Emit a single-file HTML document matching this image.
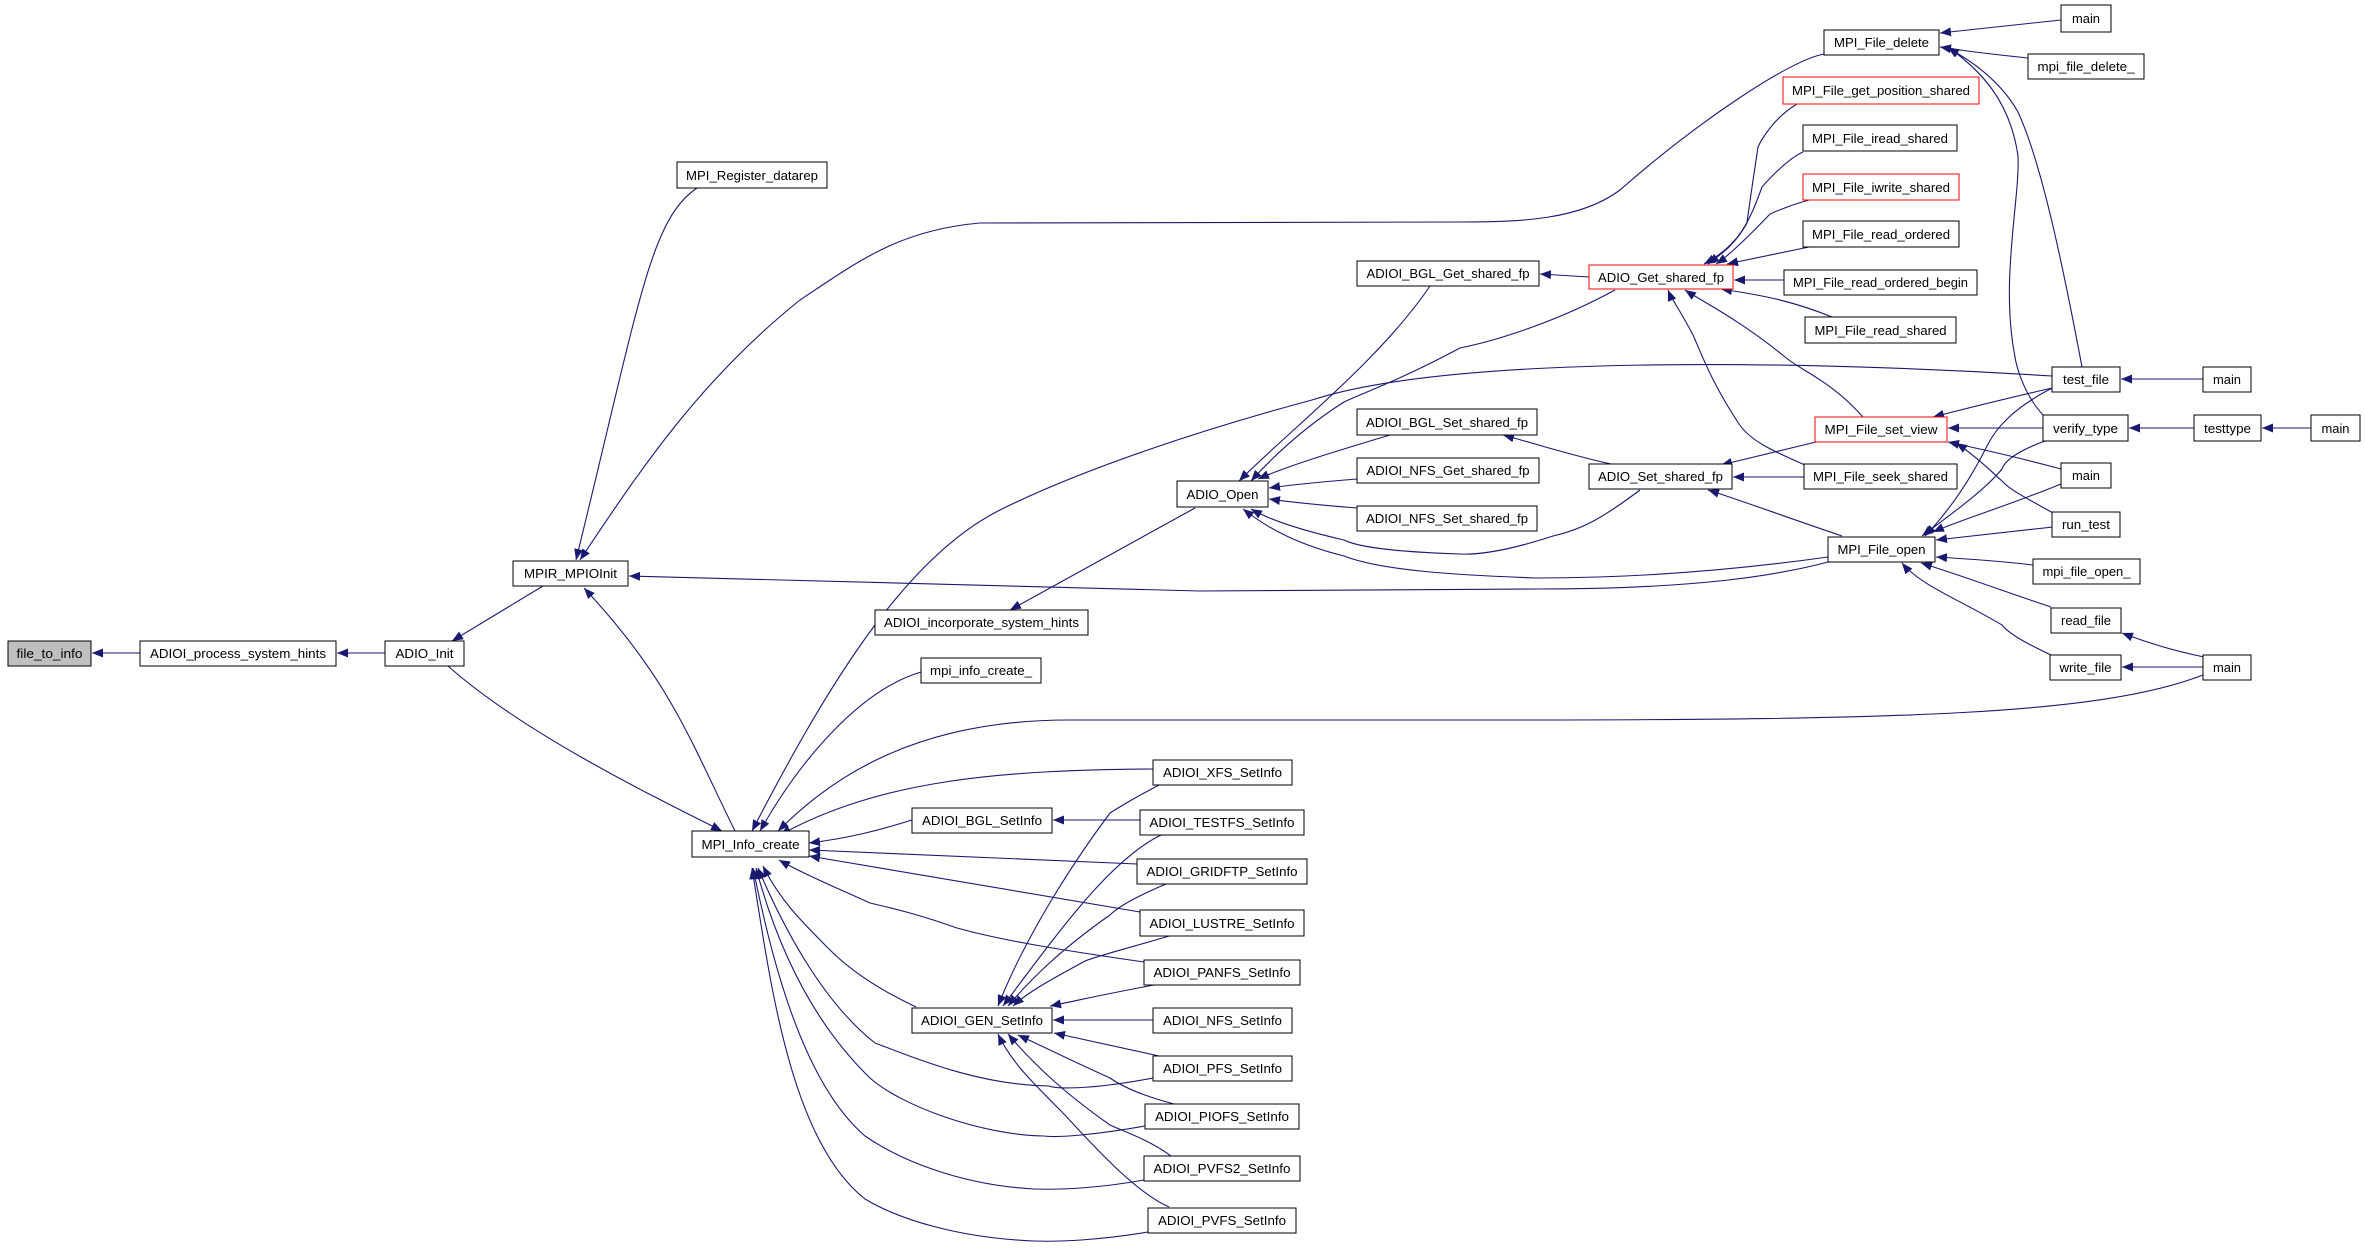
<!DOCTYPE html>
<html><head><meta charset="utf-8"><style>
html,body{margin:0;padding:0;background:#fff;}
svg{display:block;}
text{font-family:"Liberation Sans",sans-serif;font-size:13px;fill:#000;}
.e{fill:none;stroke:#191970;stroke-width:1.1;marker-end:url(#a);}
rect{fill:#fff;stroke:#000;stroke-width:1;}
.r{stroke:#ff0000;}
</style></head><body>
<svg width="2365" height="1260" viewBox="0 0 2365 1260" xmlns="http://www.w3.org/2000/svg">
<defs><marker id="a" markerWidth="11" markerHeight="9" refX="11" refY="4.5" orient="auto" markerUnits="userSpaceOnUse"><path d="M0,0 L11,4.5 L0,9 z" fill="#191970"/></marker></defs>
<g>
<path class="e" d="M140,653 L92,653"/>
<path class="e" d="M385,653 L337,653"/>
<path class="e" d="M543,586 L452,641"/>
<path class="e" d="M448,666 C520,730 640,790 722,831"/>
<path class="e" d="M697,188 C650,220 640,300 576,560"/>
<path class="e" d="M1824,54 C1790,60 1700,120 1620,190 C1580,220 1520,222 1460,222 L980,223 C900,230 860,260 800,300 C700,380 640,470 580,560"/>
<path class="e" d="M735,831 C690,740 670,680 584,588"/>
<path class="e" d="M1832,561 C1780,575 1700,589 1537,589 L1200,591 L629,576"/>
<path class="e" d="M1195,508 L1010,610"/>
<path class="e" d="M921,672 C860,690 800,760 760,831"/>
<path class="e" d="M2052,376 C1800,360 1450,355 1312,400 C1200,430 1080,470 1000,510 C900,560 820,700 752,831"/>
<path class="e" d="M2203,675 C2100,715 1900,720 1500,720 L1069,720 C900,720 820,790 778,831"/>
<path class="e" d="M1153,769 C1000,770 880,780 780,835"/>
<path class="e" d="M912,820 C880,830 850,838 809,843"/>
<path class="e" d="M1137,864 L809,850"/>
<path class="e" d="M1140,912 L809,856"/>
<path class="e" d="M1144,962 C1060,950 1000,940 957,928 C920,915 900,910 870,903 C830,885 800,872 779,860"/>
<path class="e" d="M916,1007 C880,990 850,970 830,950 C800,920 780,900 763,866"/>
<path class="e" d="M1153,1078 C1100,1088 1060,1090 1049,1086 C980,1085 920,1060 875,1043 C820,1000 780,920 758,868"/>
<path class="e" d="M1145,1126 C1100,1134 1060,1138 1044,1136 C980,1135 900,1105 870,1078 C800,1010 770,920 756,868"/>
<path class="e" d="M1144,1180 C1100,1188 1060,1190 1034,1189 C960,1185 900,1160 865,1136 C800,1080 770,950 753,868"/>
<path class="e" d="M1148,1232 C1100,1240 1060,1242 1034,1241 C960,1238 900,1220 865,1199 C790,1140 770,980 752,868"/>
<path class="e" d="M1140,820 L1053,820"/>
<path class="e" d="M1153,1020 L1053,1020"/>
<path class="e" d="M1161,784 C1130,800 1110,813 1110,813 C1060,880 1020,950 998,1006"/>
<path class="e" d="M1161,835 C1110,860 1060,930 1003,1006"/>
<path class="e" d="M1166,884 C1140,895 1120,905 1110,915 C1060,950 1030,980 1008,1006"/>
<path class="e" d="M1169,936 C1140,945 1100,955 1085,961 C1060,975 1030,990 1013,1006"/>
<path class="e" d="M1154,985 C1100,995 1080,1000 1050,1006"/>
<path class="e" d="M1159,1056 L1054,1033"/>
<path class="e" d="M1174,1104 C1140,1095 1120,1085 1110,1078 C1070,1060 1040,1045 1018,1035"/>
<path class="e" d="M1171,1156 C1150,1140 1120,1130 1110,1125 C1060,1090 1030,1060 1008,1034"/>
<path class="e" d="M1169,1207 C1130,1190 1080,1130 1059,1109 C1030,1080 1010,1060 998,1034"/>
<path class="e" d="M1430,286 C1380,360 1290,430 1239,481"/>
<path class="e" d="M1615,290 C1560,320 1500,340 1460,348 C1400,380 1370,390 1344,402 C1300,430 1270,460 1251,481"/>
<path class="e" d="M1390,435 C1340,450 1290,465 1258,479"/>
<path class="e" d="M1357,479 C1320,482 1290,485 1269,488"/>
<path class="e" d="M1357,508 C1320,505 1290,502 1269,499"/>
<path class="e" d="M1640,490 C1600,520 1580,530 1553,536 C1510,550 1480,555 1460,554 C1400,552 1360,548 1344,540 C1300,530 1270,520 1251,509"/>
<path class="e" d="M1828,557 C1700,575 1600,578 1537,578 C1450,575 1380,570 1344,556 C1300,545 1270,530 1243,509"/>
<path class="e" d="M1589,277 L1540,274"/>
<path class="e" d="M1797,104 C1770,120 1758,147 1758,147 C1750,200 1747,223 1747,223 C1735,245 1720,255 1708,264"/>
<path class="e" d="M1803,152 C1785,160 1762,187 1762,187 C1750,220 1740,245 1704,264"/>
<path class="e" d="M1809,200 C1790,205 1770,214 1770,214 C1750,235 1730,255 1716,264"/>
<path class="e" d="M1809,247 L1727,264"/>
<path class="e" d="M1784,280 L1734,280"/>
<path class="e" d="M1832,317 C1790,300 1760,295 1721,289"/>
<path class="e" d="M1863,417 C1830,380 1800,370 1785,357 C1740,320 1700,300 1685,290"/>
<path class="e" d="M1805,465 C1770,450 1750,440 1739,424 C1710,380 1700,350 1693,335 C1680,310 1672,300 1668,290"/>
<path class="e" d="M1611,464 C1570,455 1540,445 1503,435"/>
<path class="e" d="M1816,442 L1721,465"/>
<path class="e" d="M1804,477 L1733,477"/>
<path class="e" d="M1842,536 C1780,515 1740,500 1708,490"/>
<path class="e" d="M2061,20 L1940,33"/>
<path class="e" d="M2028,58 C2000,55 1970,52 1940,47"/>
<path class="e" d="M2082,367 C2060,250 2040,160 2018,112 C2000,80 1970,60 1948,48"/>
<path class="e" d="M2043,415 C2020,390 2015,357 2015,357 C2000,280 2020,200 2018,156 C2010,100 1980,70 1948,47"/>
<path class="e" d="M2052,388 C2000,400 1960,410 1933,417"/>
<path class="e" d="M2203,379 L2121,379"/>
<path class="e" d="M2043,428 L1948,428"/>
<path class="e" d="M2194,428 L2129,428"/>
<path class="e" d="M2311,428 L2262,428"/>
<path class="e" d="M2061,469 C2010,455 1975,448 1948,442"/>
<path class="e" d="M2053,513 C2030,500 2010,490 2003,482 C1985,465 1970,452 1956,443"/>
<path class="e" d="M2052,388 C2010,410 1995,430 1987,446 C1970,480 1950,510 1925,536"/>
<path class="e" d="M2045,441 C2020,450 2005,460 2002,469 C1985,490 1950,515 1922,536"/>
<path class="e" d="M2061,484 C2010,505 1960,520 1933,532"/>
<path class="e" d="M2053,527 C2010,532 1970,536 1936,540"/>
<path class="e" d="M2033,565 C2000,561 1970,559 1936,557"/>
<path class="e" d="M2051,607 C2000,590 1960,575 1921,563"/>
<path class="e" d="M2051,655 C2030,645 2010,635 2002,625 C1960,600 1920,585 1902,563"/>
<path class="e" d="M2204,657 C2170,650 2140,640 2122,633"/>
<path class="e" d="M2203,667 L2122,667"/>
</g>
<g>
<rect x="8" y="641" width="83" height="25" style="fill:#bfbfbf"/><text x="49.5" y="658" text-anchor="middle" textLength="66" lengthAdjust="spacingAndGlyphs">file_to_info</text>
<rect x="140" y="641" width="196" height="25"/><text x="238" y="658" text-anchor="middle" textLength="176" lengthAdjust="spacingAndGlyphs">ADIOI_process_system_hints</text>
<rect x="385" y="641" width="79" height="25"/><text x="424.5" y="658" text-anchor="middle" textLength="58" lengthAdjust="spacingAndGlyphs">ADIO_Init</text>
<rect x="513" y="561" width="115" height="25"/><text x="570.5" y="578" text-anchor="middle" textLength="93" lengthAdjust="spacingAndGlyphs">MPIR_MPIOInit</text>
<rect x="677" y="162" width="150" height="26"/><text x="752" y="180" text-anchor="middle" textLength="132" lengthAdjust="spacingAndGlyphs">MPI_Register_datarep</text>
<rect x="875" y="610" width="213" height="25"/><text x="981.5" y="627" text-anchor="middle" textLength="195" lengthAdjust="spacingAndGlyphs">ADIOI_incorporate_system_hints</text>
<rect x="921" y="658" width="120" height="25"/><text x="981" y="675" text-anchor="middle" textLength="102" lengthAdjust="spacingAndGlyphs">mpi_info_create_</text>
<rect x="692" y="831" width="117" height="26"/><text x="750.5" y="849" text-anchor="middle" textLength="98" lengthAdjust="spacingAndGlyphs">MPI_Info_create</text>
<rect x="912" y="808" width="140" height="25"/><text x="982" y="825" text-anchor="middle" textLength="120" lengthAdjust="spacingAndGlyphs">ADIOI_BGL_SetInfo</text>
<rect x="912" y="1008" width="140" height="25"/><text x="982" y="1025" text-anchor="middle" textLength="122" lengthAdjust="spacingAndGlyphs">ADIOI_GEN_SetInfo</text>
<rect x="1153" y="760" width="139" height="25"/><text x="1222.5" y="777" text-anchor="middle" textLength="119" lengthAdjust="spacingAndGlyphs">ADIOI_XFS_SetInfo</text>
<rect x="1140" y="810" width="164" height="25"/><text x="1222" y="827" text-anchor="middle" textLength="145" lengthAdjust="spacingAndGlyphs">ADIOI_TESTFS_SetInfo</text>
<rect x="1137" y="859" width="170" height="25"/><text x="1222" y="876" text-anchor="middle" textLength="151" lengthAdjust="spacingAndGlyphs">ADIOI_GRIDFTP_SetInfo</text>
<rect x="1140" y="910" width="164" height="26"/><text x="1222" y="928" text-anchor="middle" textLength="145" lengthAdjust="spacingAndGlyphs">ADIOI_LUSTRE_SetInfo</text>
<rect x="1144" y="960" width="156" height="25"/><text x="1222" y="977" text-anchor="middle" textLength="137" lengthAdjust="spacingAndGlyphs">ADIOI_PANFS_SetInfo</text>
<rect x="1153" y="1008" width="139" height="25"/><text x="1222.5" y="1025" text-anchor="middle" textLength="119" lengthAdjust="spacingAndGlyphs">ADIOI_NFS_SetInfo</text>
<rect x="1153" y="1056" width="139" height="25"/><text x="1222.5" y="1073" text-anchor="middle" textLength="119" lengthAdjust="spacingAndGlyphs">ADIOI_PFS_SetInfo</text>
<rect x="1145" y="1104" width="154" height="25"/><text x="1222" y="1121" text-anchor="middle" textLength="134" lengthAdjust="spacingAndGlyphs">ADIOI_PIOFS_SetInfo</text>
<rect x="1144" y="1156" width="156" height="25"/><text x="1222" y="1173" text-anchor="middle" textLength="137" lengthAdjust="spacingAndGlyphs">ADIOI_PVFS2_SetInfo</text>
<rect x="1148" y="1208" width="148" height="25"/><text x="1222" y="1225" text-anchor="middle" textLength="128" lengthAdjust="spacingAndGlyphs">ADIOI_PVFS_SetInfo</text>
<rect x="1177" y="481" width="91" height="26"/><text x="1222.5" y="499" text-anchor="middle" textLength="72" lengthAdjust="spacingAndGlyphs">ADIO_Open</text>
<rect x="1357" y="261" width="182" height="25"/><text x="1448" y="278" text-anchor="middle" textLength="163" lengthAdjust="spacingAndGlyphs">ADIOI_BGL_Get_shared_fp</text>
<rect x="1357" y="409" width="180" height="26"/><text x="1447" y="427" text-anchor="middle" textLength="162" lengthAdjust="spacingAndGlyphs">ADIOI_BGL_Set_shared_fp</text>
<rect x="1357" y="458" width="182" height="25"/><text x="1448" y="475" text-anchor="middle" textLength="163" lengthAdjust="spacingAndGlyphs">ADIOI_NFS_Get_shared_fp</text>
<rect x="1357" y="506" width="180" height="25"/><text x="1447" y="523" text-anchor="middle" textLength="162" lengthAdjust="spacingAndGlyphs">ADIOI_NFS_Set_shared_fp</text>
<rect class="r" x="1589" y="265" width="144" height="24"/><text x="1661" y="282" text-anchor="middle" textLength="126" lengthAdjust="spacingAndGlyphs">ADIO_Get_shared_fp</text>
<rect x="1589" y="464" width="143" height="25"/><text x="1660.5" y="481" text-anchor="middle" textLength="125" lengthAdjust="spacingAndGlyphs">ADIO_Set_shared_fp</text>
<rect x="1824" y="30" width="115" height="25"/><text x="1881.5" y="47" text-anchor="middle" textLength="95" lengthAdjust="spacingAndGlyphs">MPI_File_delete</text>
<rect class="r" x="1783" y="77" width="196" height="27"/><text x="1881" y="95" text-anchor="middle" textLength="178" lengthAdjust="spacingAndGlyphs">MPI_File_get_position_shared</text>
<rect x="1803" y="125" width="154" height="26"/><text x="1880" y="143" text-anchor="middle" textLength="136" lengthAdjust="spacingAndGlyphs">MPI_File_iread_shared</text>
<rect class="r" x="1803" y="174" width="156" height="26"/><text x="1881" y="192" text-anchor="middle" textLength="138" lengthAdjust="spacingAndGlyphs">MPI_File_iwrite_shared</text>
<rect x="1803" y="221" width="156" height="26"/><text x="1881" y="239" text-anchor="middle" textLength="138" lengthAdjust="spacingAndGlyphs">MPI_File_read_ordered</text>
<rect x="1784" y="270" width="193" height="25"/><text x="1880.5" y="287" text-anchor="middle" textLength="175" lengthAdjust="spacingAndGlyphs">MPI_File_read_ordered_begin</text>
<rect x="1805" y="317" width="151" height="26"/><text x="1880.5" y="335" text-anchor="middle" textLength="132" lengthAdjust="spacingAndGlyphs">MPI_File_read_shared</text>
<rect class="r" x="1815" y="417" width="132" height="25"/><text x="1881" y="434" text-anchor="middle" textLength="113" lengthAdjust="spacingAndGlyphs">MPI_File_set_view</text>
<rect x="1804" y="464" width="153" height="25"/><text x="1880.5" y="481" text-anchor="middle" textLength="135" lengthAdjust="spacingAndGlyphs">MPI_File_seek_shared</text>
<rect x="1828" y="537" width="107" height="25"/><text x="1881.5" y="554" text-anchor="middle" textLength="88" lengthAdjust="spacingAndGlyphs">MPI_File_open</text>
<rect x="2061" y="5" width="50" height="27"/><text x="2086" y="23" text-anchor="middle" textLength="28" lengthAdjust="spacingAndGlyphs">main</text>
<rect x="2028" y="54" width="116" height="25"/><text x="2086" y="71" text-anchor="middle" textLength="97" lengthAdjust="spacingAndGlyphs">mpi_file_delete_</text>
<rect x="2052" y="367" width="68" height="25"/><text x="2086" y="384" text-anchor="middle" textLength="46" lengthAdjust="spacingAndGlyphs">test_file</text>
<rect x="2203" y="367" width="48" height="25"/><text x="2227" y="384" text-anchor="middle" textLength="28" lengthAdjust="spacingAndGlyphs">main</text>
<rect x="2043" y="415" width="85" height="26"/><text x="2085.5" y="433" text-anchor="middle" textLength="65" lengthAdjust="spacingAndGlyphs">verify_type</text>
<rect x="2194" y="415" width="67" height="26"/><text x="2227.5" y="433" text-anchor="middle" textLength="47" lengthAdjust="spacingAndGlyphs">testtype</text>
<rect x="2311" y="415" width="49" height="26"/><text x="2335.5" y="433" text-anchor="middle" textLength="28" lengthAdjust="spacingAndGlyphs">main</text>
<rect x="2061" y="463" width="50" height="25"/><text x="2086" y="480" text-anchor="middle" textLength="28" lengthAdjust="spacingAndGlyphs">main</text>
<rect x="2052" y="512" width="68" height="25"/><text x="2086" y="529" text-anchor="middle" textLength="48" lengthAdjust="spacingAndGlyphs">run_test</text>
<rect x="2033" y="559" width="107" height="25"/><text x="2086.5" y="576" text-anchor="middle" textLength="88" lengthAdjust="spacingAndGlyphs">mpi_file_open_</text>
<rect x="2051" y="608" width="70" height="25"/><text x="2086" y="625" text-anchor="middle" textLength="50" lengthAdjust="spacingAndGlyphs">read_file</text>
<rect x="2050" y="655" width="71" height="25"/><text x="2085.5" y="672" text-anchor="middle" textLength="52" lengthAdjust="spacingAndGlyphs">write_file</text>
<rect x="2203" y="655" width="48" height="25"/><text x="2227" y="672" text-anchor="middle" textLength="28" lengthAdjust="spacingAndGlyphs">main</text>
</g>
</svg>
</body></html>
